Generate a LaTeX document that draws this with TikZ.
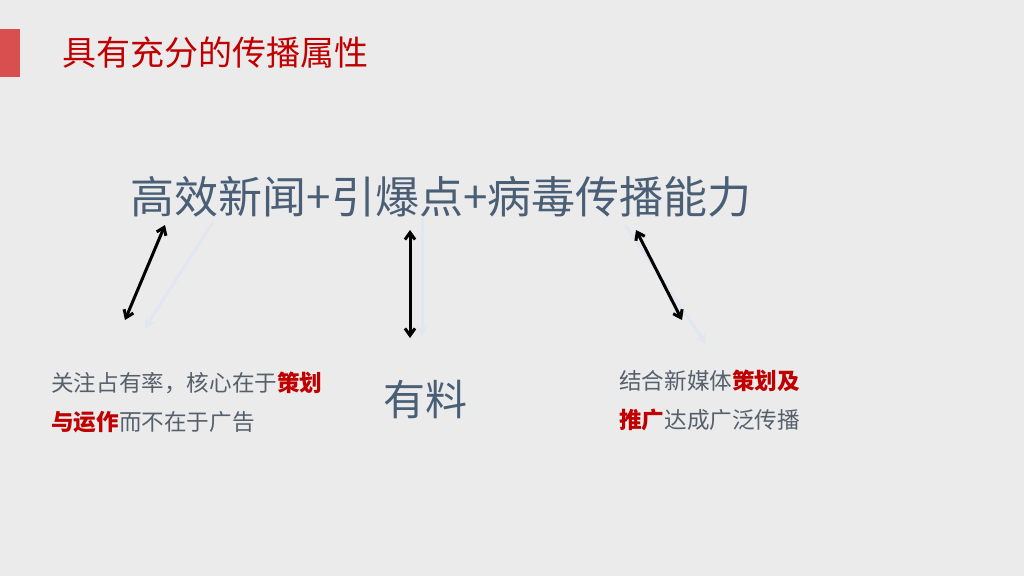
\documentclass[tikz,border=0pt]{standalone}
\usepackage{fontspec}
\setmainfont{Noto Sans CJK SC}
\usetikzlibrary{arrows.meta}
\definecolor{slidebg}{HTML}{EBEBEB}
\definecolor{titlered}{HTML}{C00000}
\definecolor{barred}{HTML}{D94F4F}
\definecolor{slate}{HTML}{4A5F76}
\definecolor{bodygray}{HTML}{56606C}
\definecolor{ghost}{HTML}{E1E7F0}

\begin{document}
\begin{tikzpicture}[x=1pt,y=-1pt,inner sep=0pt,
  body/.style={font=\fontsize{22.6}{39}\selectfont,text=bodygray,align=left,anchor=west},
  link/.style={<->,>={Straight Barb[length=7pt,width=10pt]},line width=3pt,black},
  ghostline/.style={-{Stealth[length=10pt,width=11pt]},line width=3pt,ghost}]
\useasboundingbox (0,0) rectangle (1024,576);
\fill[slidebg] (0,0) rectangle (1024,576);
\fill[barred] (0,29) rectangle (20,77);
\node[anchor=west,text=titlered,font=\fontsize{34}{34}\selectfont] (title) at (62,53) {具有充分的传播属性};
% formula
\node[text=slate,font=\fontsize{44}{44}\selectfont] (formula) at (441,197) {高效新闻+引爆点+病毒传播能力};
\node[body] (left) at (51,402) {关注占有率，核心在于{\color{titlered}\bfseries 策划}\\{\color{titlered}\bfseries 与运作}而不在于广告};
\node[text=slate,font=\fontsize{42}{42}\selectfont] (stuff) at (425,400) {有料};
\node[body] (right) at (619,400) {结合新媒体{\color{titlered}\bfseries 策划及}\\{\color{titlered}\bfseries 推广}达成广泛传播};
% ghost lines
\coordinate (lg1) at (213,222); \coordinate (lg2) at (145,328);
\coordinate (mg1) at (422,218); \coordinate (mg2) at (422,336);
\coordinate (rg1) at (625,225); \coordinate (rg2) at (706,344);
\draw[ghostline] (lg1)--(lg2);
\draw[ghostline] (mg1)--(mg2);
\draw[ghostline] (rg1)--(rg2);
% arrows
\coordinate (la1) at (165,225); \coordinate (la2) at (125,320);
\coordinate (ma1) at (410,230); \coordinate (ma2) at (410,338);
\coordinate (ra1) at (636,230); \coordinate (ra2) at (682,320);
\draw[link] (la1)--(la2);
\draw[link] (ma1)--(ma2);
\draw[link] (ra1)--(ra2);
\end{tikzpicture}
\end{document}
